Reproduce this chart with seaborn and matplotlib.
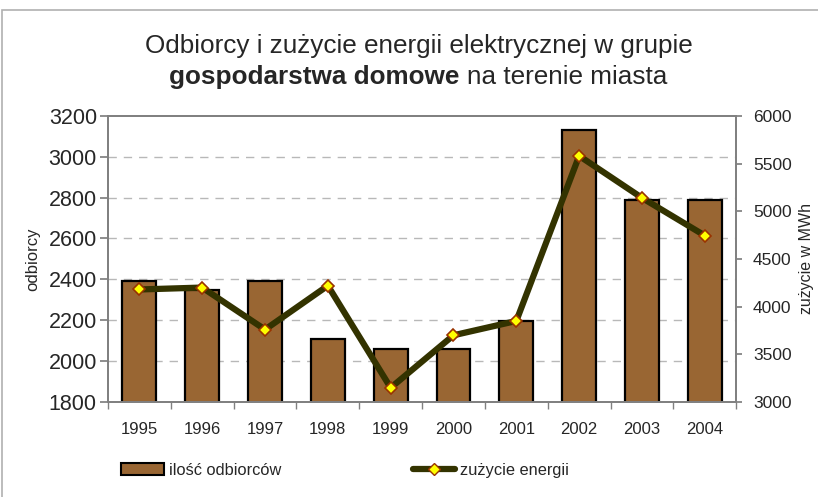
import numpy as np
import pandas as pd
import matplotlib
matplotlib.use("Agg")
import matplotlib.pyplot as plt
import seaborn as sns
from matplotlib.patches import Rectangle, Patch
from matplotlib.lines import Line2D

# data
years = ["1995", "1996", "1997", "1998", "1999", "2000", "2001", "2002", "2003", "2004"]
odbiorcy = [2390, 2350, 2390, 2110, 2060, 2060, 2195, 3130, 2790, 2790]
zuzycie = [4180, 4200, 3760, 4220, 3150, 3700, 3850, 5580, 5140, 4745]

bar_color = "#996633"
line_color = "#333300"

sns.set_theme(style="white")
plt.rcParams['font.family'] = ['Liberation Sans', 'DejaVu Sans']

df = pd.DataFrame({"rok": years, "odbiorcy": odbiorcy, "zuzycie": zuzycie})

fig = plt.figure(figsize=(8.18, 4.97), dpi=100)
ax = fig.add_axes([0.132, 0.191, 0.768, 0.576])

# light frame around the chart area
fig.patches.append(Rectangle((0.003, -0.1), 1.1, 1.08, transform=fig.transFigure,
                             fill=False, edgecolor="#b0b0b0", linewidth=1.2))

sns.barplot(data=df, x="rok", y="odbiorcy", color=bar_color, width=0.54,
            edgecolor="black", linewidth=1.6, saturation=1, ax=ax, zorder=2)
ax.set_ylim(1800, 3200)
ax.set_yticks(range(1800, 3201, 200))
for y in range(2000, 3001, 200):
    ax.axhline(y, color="#b8b8b8", linestyle=(0, (6, 5)), linewidth=1, zorder=0)
ax.set_xlim(-0.5, 9.5)
ax.set_xlabel("")
ax.set_ylabel("odbiorcy", fontsize=12, labelpad=6)
ax.tick_params(axis="y", labelsize=15.5, length=6, pad=2, direction="out",
               color="#808080", left=True)
ax.tick_params(axis="x", which="major", labelsize=12, length=0, pad=14)
ax.set_xticks(np.arange(-0.5, 10, 1), minor=True)
ax.tick_params(axis="x", which="minor", length=5, direction="out", color="#808080", bottom=True)
for s in ax.spines.values():
    s.set_color("#808080")
    s.set_linewidth(1.3)

ax2 = ax.twinx()
sns.pointplot(data=df, x="rok", y="zuzycie", color=line_color, markers="D",
              linestyles="-", ax=ax2, linewidth=4.5, markersize=6.5)
for ln in ax2.lines:
    ln.set_markerfacecolor("#ffff00")
    ln.set_markeredgecolor("#993300")
    ln.set_markeredgewidth(1.2)
    ln.set_zorder(5)
ax2.set_ylim(3000, 6000)
ax2.set_yticks(range(3000, 6001, 500))
ax2.set_xlim(-0.5, 9.5)
ax2.set_ylabel("zużycie w MWh", fontsize=11.5, labelpad=5)
ax2.set_xlabel("")
ax2.tick_params(axis="y", labelsize=12.5, length=4, pad=8, direction="out",
                color="#808080", right=True)
for s in ax2.spines.values():
    s.set_color("#808080")
    s.set_linewidth(1.3)

fig.text(0.512, 0.907, "Odbiorcy i zużycie energii elektrycznej w grupie",
         ha="center", va="center", fontsize=18.8)
fig.text(0.562, 0.845, "gospodarstwa domowe", ha="right", va="center",
         fontsize=18.8, fontweight="bold")
fig.text(0.571, 0.845, "na terenie miasta", ha="left", va="center", fontsize=18.8)

handles = [Patch(facecolor=bar_color, edgecolor="black", linewidth=1.5),
           Line2D([0], [0], color=line_color, linewidth=4.5, marker="D", markersize=6.5,
                  markerfacecolor="#ffff00", markeredgecolor="#993300")]
fig.legend(handles, ["ilość odbiorców", "zużycie energii"], loc="center",
           bbox_to_anchor=(0.422, 0.054), ncol=2, frameon=False, fontsize=11.8,
           handlelength=2.6, handletextpad=0.3, columnspacing=8.0)

fig.savefig("out.png", dpi=100)
